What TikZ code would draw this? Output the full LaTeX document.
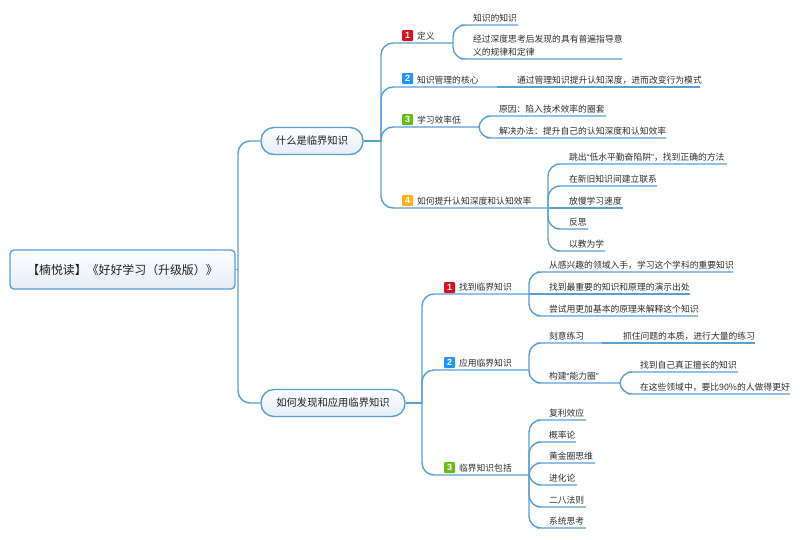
\documentclass[tikz,border=0pt]{standalone}
\usepackage{fontspec}
\setmainfont{Noto Sans CJK SC}
\newfontfamily\latfont{Liberation Sans}
\newfontfamily\digfont{Liberation Sans}
\definecolor{linec}{HTML}{5A9FD4}
\definecolor{txtc}{HTML}{2E2E2E}
\definecolor{bred}{HTML}{D8121E}
\definecolor{bblue}{HTML}{2196F8}
\definecolor{bgreen}{HTML}{6CBB1E}
\definecolor{borange}{HTML}{FBB01C}
\definecolor{fillb}{HTML}{E4EDF7}
\tikzset{
  conn/.style={draw=linec,line width=1.4pt,rounded corners=12pt},
  straightconn/.style={draw=linec,line width=1.4pt},
  leafbox/.style={anchor=south west,inner xsep=0pt,inner ysep=2.4pt,outer sep=0pt,align=left,
    font=\fontsize{8.8pt}{13pt}\selectfont,text=txtc},
  rootbox/.style={draw=linec,line width=1.4pt,rounded corners=4pt,top color=white,bottom color=fillb,
    minimum width=225pt,minimum height=39pt,inner sep=0pt,font=\fontsize{11.9pt}{13pt}\selectfont,text=black!88},
  pill/.style={draw=linec,line width=1.4pt,rounded corners=13pt,top color=white,bottom color=fillb,
    minimum height=27pt,inner sep=0pt,font=\fontsize{10.3pt}{13pt}\selectfont,text=black!88},
  badgebox/.style={rounded corners=1pt,minimum width=11pt,minimum height=11pt,inner sep=0pt,text=white,
    font=\digfont\bfseries\fontsize{9pt}{10pt}\selectfont},
}
% name, parent anchor, x of text, y of line, x of line end, text
\newcommand{\leafitem}[6]{%
  \pgfmathsetmacro{\tw}{#5-#3}%
  \node[leafbox,text width=\tw pt] (#1) at (#3,#4) {#6};
  \draw[conn] (#2) |- (#1.south west) -- (#1.south east);
}
% the same for a child at the height of its parent
\newcommand{\leveltem}[6]{%
  \pgfmathsetmacro{\tw}{#5-#3}%
  \node[leafbox,text width=\tw pt] (#1) at (#3,#4) {#6};
  \draw[straightconn] (#2) -- (#1.south east);
}
\newcommand{\badgeitem}[5]{\node[badgebox,fill=#4] (#1) at (#2,#3) {#5};}
\begin{document}
\begin{tikzpicture}[x=1pt,y=-1pt]
\useasboundingbox (0,0) rectangle (800,539);
\fill[white] (0,0) rectangle (800,539);
% root and main topics
\node[rootbox] (root) at (122.5,269.5) {【楠悦读】《好好学习（升级版）》};
\node[pill,minimum width=102pt] (m1) at (312,141) {什么是临界知识};
\node[pill,minimum width=144pt] (m2) at (333,403) {如何发现和应用临界知识};
\coordinate (s0) at (238,269.5);
\coordinate (s1) at (381,141);
\coordinate (s2) at (422,403);
\draw[straightconn] (root.east) -- (s0);
\draw[conn] (s0) |- (m1.west);
\draw[conn] (s0) |- (m2.west);
\draw[straightconn] (m1.east) -- (s1);
\draw[straightconn] (m2.east) -- (s2);
% first topic
\leafitem{a1}{s1}{417}{43}{453}{定义}
\badgeitem{ba1}{407.5}{35.5}{bred}{1}
\leafitem{a11}{a1.south east}{473}{25}{518}{知识的知识}
\leafitem{a12}{a1.south east}{473}{59}{622}{经过深度思考后发现的具有普遍指导意\\义的规律和定律}
\leafitem{a2}{s1}{417}{87}{497}{知识管理的核心}
\badgeitem{ba2}{407.5}{78.5}{bblue}{2}
\leveltem{a21}{a2.south east}{517}{87}{700}{通过管理知识提升认知深度，进而改变行为模式}
\leafitem{a3}{s1}{417}{127}{479}{学习效率低}
\badgeitem{ba3}{407.5}{119.5}{bgreen}{3}
\leafitem{a31}{a3.south east}{499}{116}{606}{原因：陷入技术效率的圈套}
\leafitem{a32}{a3.south east}{499}{138}{666}{解决办法：提升自己的认知深度和认知效率}
\leafitem{a4}{s1}{417}{208}{548}{如何提升认知深度和认知效率}
\badgeitem{ba4}{407.5}{200.5}{borange}{4}
\leafitem{a41}{a4.south east}{569}{164}{727}{跳出{\latfont “}低水平勤奋陷阱{\latfont ”}，找到正确的方法}
\leafitem{a42}{a4.south east}{569}{186}{657}{在新旧知识间建立联系}
\leveltem{a43}{a4.south east}{569}{208}{623}{放慢学习速度}
\leafitem{a44}{a4.south east}{569}{229}{588}{反思}
\leafitem{a45}{a4.south east}{569}{251}{605}{以教为学}
% second topic
\leafitem{b1}{s2}{459}{294}{529}{找到临界知识}
\badgeitem{bb1}{449.5}{287.5}{bred}{1}
\leafitem{b11}{b1.south east}{549}{272}{733}{从感兴趣的领域入手，学习这个学科的重要知识}
\leveltem{b12}{b1.south east}{549}{294}{690}{找到最重要的知识和原理的演示出处}
\leafitem{b13}{b1.south east}{549}{316}{698}{尝试用更加基本的原理来解释这个知识}
\leafitem{b2}{s2}{459}{370}{529}{应用临界知识}
\badgeitem{bb2}{449.5}{362.5}{bblue}{2}
\leafitem{b21}{b2.south east}{549}{343}{602}{刻意练习}
\leveltem{b211}{b21.south east}{623}{343}{755}{抓住问题的本质，进行大量的练习}
\leafitem{b22}{b2.south east}{549}{383}{620}{构建{\latfont “}能力圈{\latfont ”}}
\leafitem{b221}{b22.south east}{640}{372}{738}{找到自己真正擅长的知识}
\leafitem{b222}{b22.south east}{640}{394}{790}{在这些领域中，要比90\%的人做得更好}
\leafitem{b3}{s2}{459}{475}{529}{临界知识包括}
\badgeitem{bb3}{449.5}{467.5}{bgreen}{3}
\leafitem{b31}{b3.south east}{549}{420}{586}{复利效应}
\leafitem{b32}{b3.south east}{549}{442}{576}{概率论}
\leafitem{b33}{b3.south east}{549}{463}{595}{黄金圈思维}
\leafitem{b34}{b3.south east}{549}{485}{577}{进化论}
\leafitem{b35}{b3.south east}{549}{507}{586}{二八法则}
\leafitem{b36}{b3.south east}{549}{528}{586}{系统思考}
\end{tikzpicture}
\end{document}
